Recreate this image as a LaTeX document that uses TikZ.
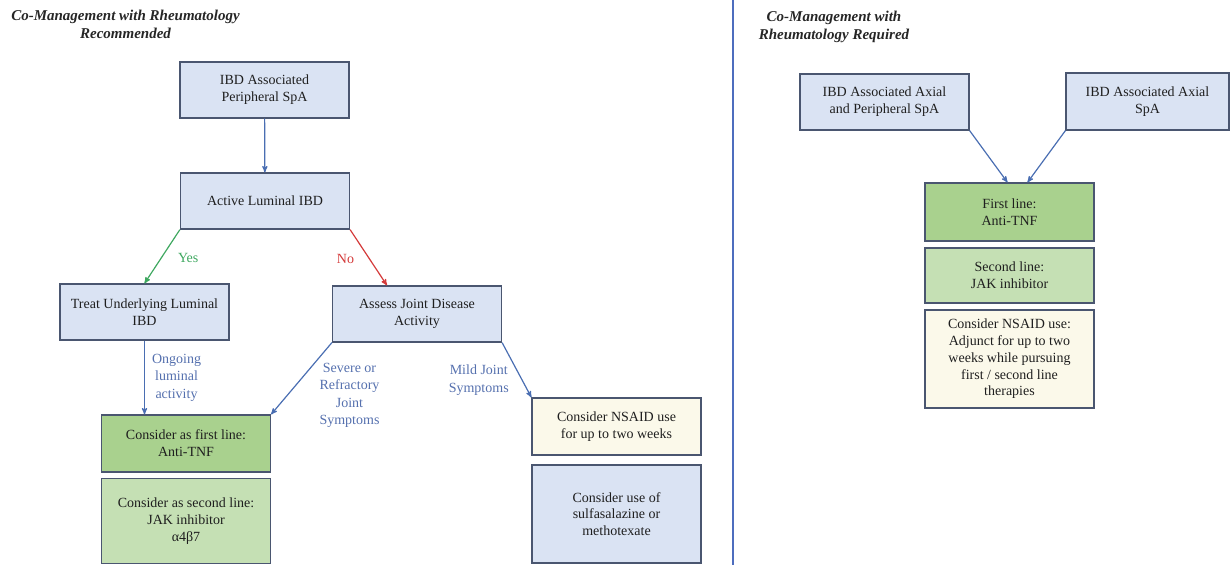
\documentclass[tikz,border=0pt]{standalone}
\usepackage{fontspec}
\setmainfont{Liberation Serif}
\usepackage{tikz}
\usetikzlibrary{arrows}

\definecolor{boxblue}{HTML}{DAE3F3}
\definecolor{boxline}{HTML}{4A5670}
\definecolor{darkgreen}{HTML}{A9D18E}
\definecolor{lightgreen}{HTML}{C5E0B4}
\definecolor{cream}{HTML}{FBF9EA}
\definecolor{arrowblue}{HTML}{4A6EB2}
\definecolor{lblblue}{HTML}{5570AE}
\definecolor{yesgreen}{HTML}{3FA860}
\definecolor{nored}{HTML}{D43A3A}
\definecolor{divider}{HTML}{4D6DBE}

\begin{document}
\begin{tikzpicture}[x=1pt, y=-1pt, >=stealth',
        box/.style={draw=boxline, line width=1.2pt, fill=boxblue, align=center, inner sep=2pt,
            minimum width=169pt, minimum height=56pt, text=black!88, font=\fontsize{14}{16.8}\selectfont},
        lbl/.style={align=center, text=lblblue, font=\fontsize{14}{17.4}\selectfont},
        title/.style={align=center, text=black!85, font=\fontsize{15}{18}\selectfont\bfseries\itshape},
        link/.style={->, line width=1.2pt, draw=arrowblue}]
        \useasboundingbox (0,0) rectangle (1231,565);

        \node [title] (t1) at (125.5, 24) {Co-Management with Rheumatology\\Recommended};
        \node [title] (t2) at (834, 26.5) {Co-Management with\\Rheumatology Required};
        \draw[divider, line width=2.5pt] (733, 0) -- (733, 565);

        \node [box] (1) at (264.5, 90) {IBD Associated\\Peripheral SpA};
        \node [box] (2) at (265, 201) {Active Luminal IBD};
        \node [box] (3) at (144.5, 312) {Treat Underlying Luminal\\IBD};
        \node [box] (4) at (417, 314) {Assess Joint Disease\\Activity};
        \node [box, fill=darkgreen, minimum height=57pt] (5) at (186, 443.5) {Consider as first line:\\Anti-TNF};
        \node [box, fill=lightgreen, minimum height=85pt] (6) at (186, 521) {Consider as second line:\\JAK inhibitor\\α4β7};
        \node [box, fill=cream, minimum height=57pt] (7) at (616.5, 426.5) {Consider NSAID use\\for up to two weeks};
        \node [box, minimum height=98pt] (8) at (616.5, 514) {Consider use of\\sulfasalazine or\\methotexate};

        \draw[link] (1) -- (2);
        \draw[->, line width=1.2pt, yesgreen] (2.south west) -- (3.north)
            node [midway, xshift=26pt, yshift=-1pt, text=yesgreen, font=\fontsize{14}{17}\selectfont] {Yes};
        \draw[->, line width=1.2pt, nored] (2.south east) -- ([xshift=-30pt]4.north)
            node [midway, xshift=-23pt, yshift=-1pt, text=nored, font=\fontsize{14}{17}\selectfont] {No};
        \draw[link] (3.south) -- (3.south |- 5.north)
            node [lbl, midway, xshift=32pt] {Ongoing\\luminal\\activity};
        \draw[link] (4.south west) -- (5.north east)
            node [lbl, midway, xshift=48pt, yshift=-17pt] {Severe or\\Refractory\\Joint\\Symptoms};
        \draw[link] (4.south east) -- (7.north west)
            node [lbl, midway, xshift=-38pt, yshift=-10pt] {Mild Joint\\Symptoms};

        \node [box] (9) at (884.5, 102) {IBD Associated Axial\\and Peripheral SpA};
        \node [box, minimum width=163pt, minimum height=57pt] (10) at (1147.5, 101.5) {IBD Associated Axial\\SpA};
        \node [box, fill=darkgreen, minimum height=58pt] (11) at (1009.5, 212) {First line:\\Anti-TNF};
        \node [box, fill=lightgreen, minimum height=55pt] (12) at (1009.5, 275.5) {Second line:\\JAK inhibitor};
        \node [box, fill=cream, minimum height=98pt] (13) at (1009.5, 359) {Consider NSAID use:\\Adjunct for up to two\\weeks while pursuing\\first / second line\\therapies};

        \draw[link] (9.south east) -- ([xshift=-2pt]11.north);
        \draw[link] (10.south west) -- ([xshift=18pt]11.north);
    \end{tikzpicture}
\end{document}
